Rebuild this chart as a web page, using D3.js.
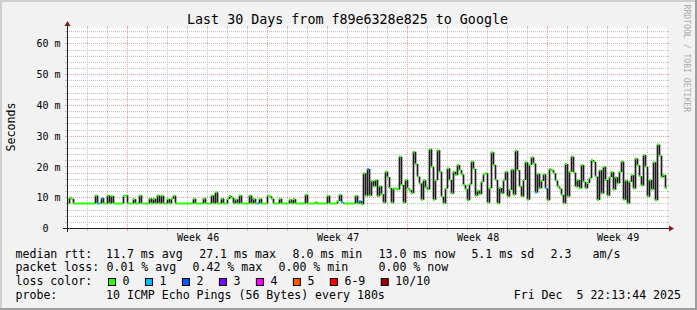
<!DOCTYPE html>
<html><head><meta charset="utf-8">
<script src="https://cdn.jsdelivr.net/npm/d3@7"></script>
<style>
html,body{margin:0;padding:0;background:#f2f2f2;}
svg{display:block;}
text{font-family:"DejaVu Sans Mono",monospace;white-space:pre;}
</style>
</head><body>
<svg id="c" width="697" height="310"></svg>
<script>
// ---------------- data ----------------
const titleText = "Last 30 Days from f89e6328e825 to Google";
const yAxisTitle = "Seconds";
const yTicks = [0, 10, 20, 30, 40, 50, 60];
const weekLabels = ["Week 46", "Week 47", "Week 48", "Week 49"];
// median rtt (ms), one value per 2.4 h, first 15 days
const rttFirstHalf = [
 8.0, 9.8, 9.5, 8.0, 8.0, 8.0, 8.0, 8.0, 8.0, 8.0,
 8.0, 8.0, 8.0, 8.0,10.6, 8.0, 8.0, 9.7, 8.0, 8.0,
10.6, 8.0,10.4, 8.0, 8.0, 8.0, 8.0, 8.0,10.4,10.6,
 8.0, 8.0, 8.0, 9.4, 8.0, 8.0,10.6, 8.0, 8.0, 8.0,
 8.0, 9.6, 8.0, 9.5, 8.0,10.6, 8.0,10.5, 8.0, 8.0,
 9.4, 8.0, 9.5,10.5, 8.0, 8.0, 8.0, 8.0, 8.0, 8.0,
 8.0, 8.0, 8.0, 9.5, 8.0, 8.0, 8.0, 8.0, 9.6, 8.0,
 8.0, 8.0,10.6, 8.0,11.6, 8.0, 8.0, 9.6, 8.0, 8.0,
 9.4,10.4, 9.8, 8.0, 9.3, 8.0,10.6, 8.0, 8.0, 8.0,
 8.0,10.6, 8.0, 9.5, 8.0, 8.0, 9.5, 8.0, 8.0, 8.0,
10.5,10.3, 9.5, 8.0, 8.0, 8.0, 9.5, 8.0, 8.0, 8.0,
 8.0, 9.2, 8.0, 9.4, 8.0, 8.0, 8.0, 8.0, 8.0,10.8,
 8.0, 8.0, 8.0, 8.0, 8.4, 8.0, 8.0, 8.0, 8.0, 8.0,
10.5, 8.0, 8.0, 8.0, 8.0, 8.8,10.8, 8.4, 8.0, 8.0,
 8.0, 8.0, 8.0, 8.0,10.5, 8.0, 8.8, 7.7,17.8,10.5
];
// median rtt (ms), last 15 days
const rttSecondHalf = [
19.2,10.5,15.3,13.5,15.6,10.3,13.6,11.0, 8.2,18.3,
16.5,13.0, 8.2,12.8,12.8,12.5,23.2,14.0, 8.2,15.6,
12.8,12.3,11.3,24.8,20.8,16.7,14.5, 9.2,15.5,13.2,
12.5,25.6,19.8, 9.2,15.5,25.3,18.3,10.2, 8.0,12.8,
19.4,15.6,11.2,18.3,17.2,20.5,18.8,17.4,14.0,12.6,
 9.0,14.2,21.6,19.2,10.5,12.2,11.0,15.0,17.5,17.8,
 8.2,12.9,24.6,20.5,15.6, 8.0,13.0,11.2,15.5,18.3,
10.2,12.4,19.0,10.8,25.1,18.8,13.5,10.2,15.6,21.4,
 9.2,20.5,23.0,21.0,11.5,17.6,12.9,15.3,17.5,12.9,
 9.0,19.2,18.8,17.8,15.4,13.5,12.8,10.8, 8.0,20.8,
10.2,18.3,23.2,18.0,13.4,15.6,12.9,20.5,15.0,12.9,
14.6,16.2,22.1,21.5,16.7, 9.1,18.8,11.2,19.9,15.6,
10.5,16.5,18.2,12.5,16.5,14.5,18.2,21.6, 9.2,15.4,
 8.0,15.0,17.2,12.8,22.6,20.4,16.8,13.8,23.7,19.9,
10.2,15.6,12.5,21.4, 9.0,27.1,23.5,16.5,17.2,13.0
];
// [sample index, lost pings]
const lossEvents = [[15,1],[17,1],[95,1],[137,1],[146,1],[150,1],[234,1],[239,1]];
const lossLabels = ["0","1","2","3","4","5","6-9","10/10"];
const lossColors = ["#26ff00","#00b8ff","#0059ff","#7e00ff","#ff00ff","#ff5500","#ff0000","#a10000"];
const rttStats = ["11.7 ms avg","27.1 ms max","8.0 ms min","13.0 ms now","5.1 ms sd","2.3","am/s"];
const lossStats = ["0.01 % avg","0.42 % max","0.00 % min","0.00 % now"];
const probeText = "10 ICMP Echo Pings (56 Bytes) every 180s";
const dateText = "Fri Dec  5 22:13:44 2025";
const watermark = "RRDTOOL / TOBI OETIKER";

// ---------------- layout ----------------
const W = 697, H = 310;
const X0 = 67, X1 = 667, Y0 = 228, Y1 = 28;
const start = new Date(Date.UTC(2025, 10, 6));
const end = new Date(Date.UTC(2025, 11, 6));
const step = 2.4 * 3600 * 1000;
const x = d3.scaleUtc().domain([start, end]).range([X0, X1]);
const y = d3.scaleLinear().domain([0, 65]).range([Y0, Y1]);
const px = v => Math.round(v) + 0.5;

const svg = d3.select("#c");
svg.append("rect").attr("width", W).attr("height", H).attr("fill", "#f2f2f2");
svg.append("path").attr("d", `M0,0H${W}V2H2V${H}H0Z`).attr("fill", "#cfcfcf");
svg.append("path").attr("d", `M${W},0V${H}H0V${H-2}H${W-2}V0Z`).attr("fill", "#9e9e9e");
svg.append("rect").attr("x", X0).attr("y", Y1).attr("width", X1 - X0).attr("height", Y0 - Y1).attr("fill", "#fff");

const GRID = "#c2c2c2", MGRID = "#ee9e9e";
const days = d3.utcDay.range(d3.utcDay.offset(start, 1), end);
const minorDays = days.filter(d => d.getUTCDay() !== 0);
const sundays = days.filter(d => d.getUTCDay() === 0);
const minorVals = d3.range(2, 65, 2).filter(v => v % 10 !== 0);
const majorVals = yTicks.filter(v => v > 0);

const g = svg.append("g");
function vlines(list, color) {
  g.append("g").selectAll("line").data(list).join("line")
    .attr("x1", d => px(x(d))).attr("x2", d => px(x(d)))
    .attr("y1", Y1).attr("y2", Y0)
    .attr("stroke", color).attr("stroke-dasharray", "1,1");
  g.append("g").selectAll("path").data(list).join("path")
    .attr("d", d => `M${px(x(d))},${Y1-2}V${Y1}M${px(x(d))},${Y0}V${Y0+3}`)
    .attr("stroke", color);
}
function hlines(list, color) {
  g.append("g").selectAll("line").data(list).join("line")
    .attr("x1", X0).attr("x2", X1)
    .attr("y1", d => px(y(d))).attr("y2", d => px(y(d)))
    .attr("stroke", color).attr("stroke-dasharray", "1,1");
  g.append("g").selectAll("path").data(list).join("path")
    .attr("d", d => `M${X0-2},${px(y(d))}H${X0}M${X1},${px(y(d))}H${X1+2}`)
    .attr("stroke", color);
}
vlines(minorDays, GRID);
hlines(minorVals, GRID);
vlines(sundays, MGRID);
hlines(majorVals, MGRID);

// ---------------- series ----------------
const rtt = rttFirstHalf.concat(rttSecondHalf);
const lossMap = new Map(lossEvents);
const samples = rtt.map((v, i) => ({
  t0: new Date(+start + i * step), t1: new Date(+start + (i + 1) * step),
  v, loss: lossMap.get(i) || 0
}));
const lossColor = n => n === 0 ? lossColors[0] : n >= 10 ? lossColors[7] : n >= 6 ? lossColors[6] : lossColors[n];

const pairs = d3.pairs(samples).filter(([a, b]) => a.v !== b.v);
svg.append("g").selectAll("line").data(pairs).join("line")
  .attr("x1", ([a, b]) => px(x(b.t0))).attr("x2", ([a, b]) => px(x(b.t0)))
  .attr("y1", ([a, b]) => y(a.v)).attr("y2", ([a, b]) => y(b.v))
  .attr("stroke", "#1c1c1c").attr("stroke-width", 1.7);
svg.append("g").selectAll("line").data(samples).join("line")
  .attr("x1", d => x(d.t0)).attr("x2", d => x(d.t1))
  .attr("y1", d => y(d.v)).attr("y2", d => y(d.v))
  .attr("stroke", d => lossColor(d.loss)).attr("stroke-width", 2);

// ---------------- axes ----------------
const AX = "#202020", ARROW = "#801f1f";
svg.append("path").attr("d", `M${X0-4},${Y0+0.5}H${X1+4}`).attr("stroke", AX);
svg.append("path").attr("d", `M${X0+0.5},${Y0+4}V${Y1-4}`).attr("stroke", AX);
svg.append("path").attr("d", `M${X0-2.5},${Y1-2}L${X0+3.5},${Y1-2}L${X0+0.5},${Y1-7}Z`).attr("fill", ARROW);
svg.append("path").attr("d", `M${X1+2},${Y0-2.5}L${X1+2},${Y0+3.5}L${X1+7},${Y0+0.5}Z`).attr("fill", ARROW);

const yAxis = d3.axisLeft(y).tickValues(yTicks)
  .tickFormat(v => v === 0 ? "0  " : v + " m").tickSize(0).tickPadding(0);
const ya = svg.append("g").attr("transform", "translate(60.6,0)").call(yAxis);
ya.select(".domain").remove();
ya.selectAll("text").attr("xml:space", "preserve").attr("dy", "0.36em")
  .attr("font-family", "DejaVu Sans Mono").attr("font-size", 10).attr("fill", "#000");

const weekCenters = sundays.map(d => new Date(+d + 3.5 * 86400000));
const xAxis = d3.axisBottom(x).tickValues(weekCenters)
  .tickFormat((d, i) => weekLabels[i]).tickSize(0).tickPadding(0);
const xa = svg.append("g").attr("transform", "translate(0.6,241)").call(xAxis);
xa.select(".domain").remove();
xa.selectAll("text").attr("dy", 0).attr("y", 0)
  .attr("font-family", "DejaVu Sans Mono").attr("font-size", 10).attr("fill", "#000");

// ---------------- texts ----------------
svg.append("text").attr("x", 347.5).attr("y", 24).attr("text-anchor", "middle")
  .attr("font-size", 13.33).text(titleText);
svg.append("text").attr("transform", "translate(15,127) rotate(-90)").attr("text-anchor", "middle")
  .attr("font-size", 11.6).text(yAxisTitle);
svg.append("text").attr("transform", "translate(684.3,4.5) rotate(90)")
  .attr("font-size", 8.15).attr("fill", "#aaaaaa").text(watermark);

const LF = 11.58, CW = 6.97;
const rows = [257.6, 271.4, 285.2, 299];
const lt = (xx, yy, s, anchor) => svg.append("text").attr("x", xx).attr("y", yy)
  .attr("xml:space", "preserve").attr("font-size", LF).attr("text-anchor", anchor || "start").text(s);
lt(15.5, rows[0], "median rtt:");
[106, 199.2, 292.6, 378.5, 471.4, 550.5, 592.5].forEach((xx, i) => lt(xx, rows[0], rttStats[i]));
lt(15.5, rows[1], "packet loss:");
[106.5, 192.5, 278.5, 378.5].forEach((xx, i) => lt(xx, rows[1], lossStats[i]));
lt(15.5, rows[2], "loss color:");
let bx = 108.5;
lossLabels.forEach((lab, i) => {
  svg.append("rect").attr("x", bx).attr("y", 278.5).attr("width", 7).attr("height", 7)
    .attr("fill", lossColors[i]).attr("stroke", "#000");
  lt(bx + 14.1, rows[2], lab);
  bx += 14.1 + lab.length * CW + 15.9;
});
lt(15.5, rows[3], "probe:");
lt(106, rows[3], probeText);
lt(681, rows[3], dateText, "end");
</script>
</body></html>
